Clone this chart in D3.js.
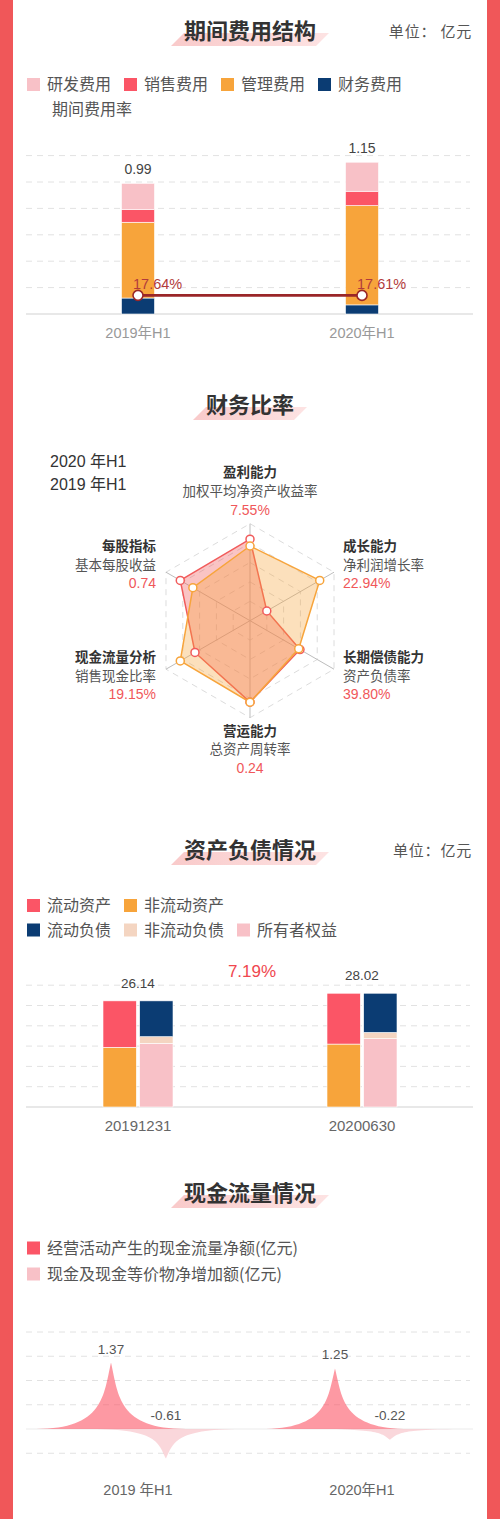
<!DOCTYPE html>
<html>
<head>
<meta charset="utf-8">
<script src="https://cdn.jsdelivr.net/npm/d3@7"></script>
<style>
  body { margin: 0; background: #fff; }
  text { font-family: 'Liberation Sans', 'Noto Sans CJK SC', sans-serif; }
</style>
</head>
<body>
<script>
// ---- 期间费用结构 ----
var costCats = ['2019年H1', '2020年H1'];
var rdExp = [0.197, 0.220];     // 研发费用
var salesExp = [0.098, 0.109];  // 销售费用
var mgmtExp = [0.574, 0.752];   // 管理费用
var finExp = [0.121, 0.069];    // 财务费用
var costTotals = ['0.99', '1.15'];
var costRate = [17.64, 17.61];  // 期间费用率 %

// ---- 财务比率 ----
var radarTitles = ['盈利能力', '成长能力', '长期偿债能力', '营运能力', '现金流量分析', '每股指标'];
var radarSubs = ['加权平均净资产收益率', '净利润增长率', '资产负债率', '总资产周转率', '销售现金比率', '基本每股收益'];
var radarValues = ['7.55%', '22.94%', '39.80%', '0.24', '19.15%', '0.74'];
var radar2020 = [0.84, 0.20, 0.595, 0.84, 0.655, 0.83];
var radar2019 = [0.77, 0.83, 0.58, 0.84, 0.83, 0.68];

// ---- 资产负债情况 ----
var bsCats = ['20191231', '20200630'];
var curAssets = [11.44, 12.52];     // 流动资产
var nonCurAssets = [14.70, 15.50];  // 非流动资产
var curLiab = [8.82, 9.65];         // 流动负债
var nonCurLiab = [1.64, 1.50];      // 非流动负债
var equity = [15.68, 16.87];        // 所有者权益
var bsTotals = ['26.14', '28.02'];
var assetGrowth = '7.19%';

// ---- 现金流量情况 ----
var cfCats = ['2019 年H1', '2020年H1'];
var opCash = [1.37, 1.25];     // 经营活动产生的现金流量净额
var netCash = [-0.61, -0.22];  // 现金及现金等价物净增加额

var C = {
  frame: '#f05759', pink: '#f8c1c7', red: '#fb5566', orange: '#f7a43b', navy: '#0b3c73',
  beige: '#f4d5c1', grid: '#e2e2e2', text: '#333', sub: '#555', axis: '#777'
};

var svg = d3.select('body').append('svg').attr('width', 500).attr('height', 1519);
svg.append('rect').attr('width', 500).attr('height', 1519).attr('fill', C.frame);
svg.append('rect').attr('x', 13).attr('width', 474).attr('height', 1519).attr('fill', '#fff');

var defs = svg.append('defs');
var grad = defs.append('linearGradient').attr('id', 'tg');
grad.append('stop').attr('offset', '0%').attr('stop-color', '#f9caca');
grad.append('stop').attr('offset', '100%').attr('stop-color', '#fde3e3');

function title(cy, txt, unit) {
  var g = svg.append('g');
  var p = g.append('path').attr('fill', 'url(#tg)');
  var t = g.append('text').attr('x', 250).attr('y', cy + 8).attr('text-anchor', 'middle')
    .attr('font-size', 22).attr('font-weight', 'bold').attr('fill', C.text)
    .style('font-family', "'Noto Sans CJK SC', sans-serif").text(txt);
  var w = t.node().getComputedTextLength();
  var l = 250 - w / 2 - 13, r = 250 + w / 2;
  p.attr('d', 'M' + l + ',' + (cy + 15) + 'L' + (l + 13) + ',' + (cy + 2) + 'L' + (r + 13) + ',' + (cy + 2) + 'L' + r + ',' + (cy + 15) + 'Z');
  if (unit) {
    g.append('text').attr('x', 472).attr('y', cy + 6).attr('text-anchor', 'end')
      .attr('font-size', 15).attr('fill', C.sub).style('font-family', "'Noto Sans CJK SC', sans-serif")
      .attr('letter-spacing', 0.8).text(unit);
  }
}

function legend(items) {
  items.forEach(function (d) {
    if (d.color) {
      svg.append('rect').attr('x', d.x).attr('y', d.y - 6.5).attr('width', 13).attr('height', 13).attr('fill', d.color);
    }
    svg.append('text').attr('x', d.tx != null ? d.tx : d.x + 20).attr('y', d.y + 5.5)
      .attr('font-size', 16).attr('fill', C.sub).style('font-family', "'Noto Sans CJK SC', sans-serif").text(d.label);
  });
}

function grid(scale, ticks, x0, x1, skip) {
  svg.append('g').selectAll('line').data(ticks.filter(function (t) { return t !== skip; })).join('line')
    .attr('x1', x0).attr('x2', x1).attr('y1', function (t) { return scale(t); }).attr('y2', function (t) { return scale(t); })
    .attr('stroke', C.grid).attr('stroke-dasharray', '6,5');
}

// ================= 1. 期间费用结构 =================
title(31, '期间费用结构', '单位： 亿元');
legend([
  { x: 27, y: 84.5, color: C.pink, label: '研发费用' },
  { x: 124, y: 84.5, color: C.red, label: '销售费用' },
  { x: 221, y: 84.5, color: C.orange, label: '管理费用' },
  { x: 318, y: 84.5, color: C.navy, label: '财务费用' },
  { x: 27, tx: 52, y: 109, label: '期间费用率' }
]);

var x1 = d3.scaleBand().domain(costCats).range([26, 474]);
var y1 = d3.scaleLinear().domain([0, 1.2]).range([314, 155.6]);
var yRate = d3.scaleLinear().domain([0, 150]).range([314, 155.6]);
grid(y1, y1.ticks(6), 26, 470, 0);
svg.append('line').attr('x1', 26).attr('x2', 473).attr('y1', y1(0)).attr('y2', y1(0)).attr('stroke', '#e0e0e0').attr('stroke-width', 1.5);

var costRows = costCats.map(function (c, i) {
  return { cat: c, fin: finExp[i], mgmt: mgmtExp[i], sales: salesExp[i], rd: rdExp[i] };
});
var costColors = { fin: C.navy, mgmt: C.orange, sales: C.red, rd: C.pink };
var costStack = d3.stack().keys(['fin', 'mgmt', 'sales', 'rd'])(costRows);
var bw1 = 33;
svg.append('g').selectAll('g').data(costStack).join('g').attr('fill', function (s) { return costColors[s.key]; })
  .selectAll('rect').data(function (s) { return s; }).join('rect')
  .attr('x', function (d) { return x1(d.data.cat) + x1.bandwidth() / 2 - bw1 / 2; })
  .attr('width', bw1)
  .attr('y', function (d) { return y1(d[1]); })
  .attr('height', function (d) { return y1(d[0]) - y1(d[1]); })
  .attr('stroke', '#fff').attr('stroke-width', 0.6);

svg.append('g').selectAll('text').data(costCats).join('text')
  .attr('x', function (c) { return x1(c) + x1.bandwidth() / 2; })
  .attr('y', function (c, i) { return y1(+costTotals[i]) - 9; })
  .attr('text-anchor', 'middle').attr('font-size', 14).attr('fill', '#444')
  .text(function (c, i) { return costTotals[i]; });

svg.append('g').selectAll('text').data(costCats).join('text')
  .attr('x', function (c) { return x1(c) + x1.bandwidth() / 2; }).attr('y', 338)
  .attr('text-anchor', 'middle').attr('font-size', 14.5).attr('fill', '#999').text(function (c) { return c; });

var rateLine = d3.line()
  .x(function (d, i) { return x1(costCats[i]) + x1.bandwidth() / 2; })
  .y(function (d) { return yRate(d); });
svg.append('path').datum(costRate).attr('d', rateLine).attr('fill', 'none').attr('stroke', '#9a2628').attr('stroke-width', 2.6);
svg.append('g').selectAll('circle').data(costRate).join('circle')
  .attr('cx', function (d, i) { return x1(costCats[i]) + x1.bandwidth() / 2; })
  .attr('cy', function (d) { return yRate(d); }).attr('r', 5)
  .attr('fill', '#fff').attr('stroke', '#9a2628').attr('stroke-width', 1.6);
svg.append('g').selectAll('text').data(costRate).join('text')
  .attr('x', function (d, i) { return x1(costCats[i]) + x1.bandwidth() / 2 - 5; })
  .attr('y', function (d) { return yRate(d) - 6; })
  .attr('font-size', 14.5).attr('fill', '#b23b3b').text(function (d) { return d.toFixed(2) + '%'; });

// ================= 2. 财务比率 =================
title(405, '财务比率', null);
svg.append('text').attr('x', 50).attr('y', 466.5).attr('font-size', 16).attr('fill', C.text).text('2020 年H1');
svg.append('text').attr('x', 50).attr('y', 489.5).attr('font-size', 16).attr('fill', C.text).text('2019 年H1');

var rcx = 250, rcy = 620.7, R = 97;
var ang = d3.scaleLinear().domain([0, radarTitles.length]).range([0, 2 * Math.PI]);
var rr = d3.scaleLinear().domain([0, 1]).range([0, R]);
function pt(i, v) {
  var a = ang(i);
  return [rcx + rr(v) * Math.sin(a), rcy - rr(v) * Math.cos(a)];
}
var radarG = svg.append('g');
[0.2, 0.4, 0.6, 0.8, 1].forEach(function (lv) {
  radarG.append('path')
    .attr('d', d3.line()(d3.range(6).map(function (i) { return pt(i, lv); })) + 'Z')
    .attr('fill', 'none').attr('stroke', '#dcdcdc').attr('stroke-dasharray', '6,5');
});
radarG.selectAll('line').data(d3.range(6)).join('line')
  .attr('x1', rcx).attr('y1', rcy)
  .attr('x2', function (i) { return pt(i, 1)[0]; }).attr('y2', function (i) { return pt(i, 1)[1]; })
  .attr('stroke', '#bdbdbd');

var series = [
  { vals: radar2020, stroke: '#f15b5b', fill: 'rgba(241,91,91,0.36)' },
  { vals: radar2019, stroke: '#f7a43b', fill: 'rgba(247,164,59,0.34)' }
];
series.forEach(function (s) {
  var pts = s.vals.map(function (v, i) { return pt(i, v); });
  radarG.append('path').attr('d', d3.line()(pts) + 'Z').attr('fill', s.fill).attr('stroke', s.stroke).attr('stroke-width', 1.5);
});
series.forEach(function (s) {
  radarG.selectAll(null).data(s.vals).join('circle')
    .attr('cx', function (v, i) { return pt(i, v)[0]; }).attr('cy', function (v, i) { return pt(i, v)[1]; })
    .attr('r', 4).attr('fill', '#fff').attr('stroke', s.stroke).attr('stroke-width', 1.5);
});

// label layout per axis: anchor, x offset from centre, y offsets of the three lines from the outer vertex
var labelLayout = [
  { anchor: 'middle', dx: 0, dy: [-47, -28, -9] },
  { anchor: 'start', dx: 93, dy: [-21, -2, 16] },
  { anchor: 'start', dx: 93, dy: [-7, 12, 30] },
  { anchor: 'middle', dx: 0, dy: [18, 36, 55] },
  { anchor: 'end', dx: -94, dy: [-7, 12, 30] },
  { anchor: 'end', dx: -94, dy: [-21, -2, 16] }
];
radarTitles.forEach(function (t, i) {
  var L = labelLayout[i], v = pt(i, 1);
  var g = svg.append('g').attr('text-anchor', L.anchor);
  g.append('text').attr('x', rcx + L.dx).attr('y', v[1] + L.dy[0]).attr('font-size', 13.5).attr('font-weight', 'bold')
    .attr('fill', C.text).style('font-family', "'Noto Sans CJK SC', sans-serif").text(t);
  g.append('text').attr('x', rcx + L.dx).attr('y', v[1] + L.dy[1]).attr('font-size', 13.5)
    .attr('fill', C.sub).style('font-family', "'Noto Sans CJK SC', sans-serif").text(radarSubs[i]);
  g.append('text').attr('x', rcx + L.dx).attr('y', v[1] + L.dy[2]).attr('font-size', 14)
    .attr('fill', '#f0575a').text(radarValues[i]);
});

// ================= 3. 资产负债情况 =================
title(850, '资产负债情况', '单位：亿元');
legend([
  { x: 27, y: 905.5, color: C.red, label: '流动资产' },
  { x: 124, y: 905.5, color: C.orange, label: '非流动资产' },
  { x: 27, y: 930, color: C.navy, label: '流动负债' },
  { x: 124, y: 930, color: C.beige, label: '非流动负债' },
  { x: 237, y: 930, color: C.pink, label: '所有者权益' }
]);

var x3 = d3.scaleBand().domain(bsCats).range([26, 474]);
var xIn = d3.scaleBand().domain(['asset', 'liab']).range([-35, 35]).paddingInner(0.09);
var y3 = d3.scaleLinear().domain([0, 30]).range([1107, 985.2]);
grid(y3, y3.ticks(6), 26, 470, 0);
svg.append('line').attr('x1', 26).attr('x2', 473).attr('y1', y3(0)).attr('y2', y3(0)).attr('stroke', '#e0e0e0').attr('stroke-width', 1.5);

var bsRows = bsCats.map(function (c, i) {
  return { cat: c, nca: nonCurAssets[i], ca: curAssets[i], eq: equity[i], ncl: nonCurLiab[i], cl: curLiab[i] };
});
var bsColors = { nca: C.orange, ca: C.red, eq: C.pink, ncl: C.beige, cl: C.navy };
[['asset', ['nca', 'ca']], ['liab', ['eq', 'ncl', 'cl']]].forEach(function (side) {
  var st = d3.stack().keys(side[1])(bsRows);
  svg.append('g').selectAll('g').data(st).join('g').attr('fill', function (s) { return bsColors[s.key]; })
    .selectAll('rect').data(function (s) { return s; }).join('rect')
    .attr('x', function (d) { return x3(d.data.cat) + x3.bandwidth() / 2 + xIn(side[0]); })
    .attr('width', xIn.bandwidth())
    .attr('y', function (d) { return y3(d[1]); })
    .attr('height', function (d) { return y3(d[0]) - y3(d[1]); })
    .attr('stroke', '#fff').attr('stroke-width', 0.6);
});
svg.append('g').selectAll('text').data(bsCats).join('text')
  .attr('x', function (c) { return x3(c) + x3.bandwidth() / 2; })
  .attr('y', function (c, i) { return y3(+bsTotals[i]) - 13; })
  .attr('text-anchor', 'middle').attr('font-size', 13.5).attr('fill', '#444')
  .text(function (c, i) { return bsTotals[i]; });
svg.append('text').attr('x', 252).attr('y', 977).attr('text-anchor', 'middle').attr('font-size', 17)
  .attr('fill', '#f0474f').text(assetGrowth);
svg.append('g').selectAll('text').data(bsCats).join('text')
  .attr('x', function (c) { return x3(c) + x3.bandwidth() / 2; }).attr('y', 1131)
  .attr('text-anchor', 'middle').attr('font-size', 15).attr('fill', '#666').text(function (c) { return c; });

// ================= 4. 现金流量情况 =================
title(1193, '现金流量情况', null);
legend([
  { x: 27, y: 1248, color: C.red, label: '经营活动产生的现金流量净额(亿元)' },
  { x: 27, y: 1274, color: C.pink, label: '现金及现金等价物净增加额(亿元)' }
]);

var x4 = d3.scaleBand().domain(cfCats).range([26, 474]);
var y4 = d3.scaleLinear().domain([-0.5, 2]).range([1453.25, 1332]);
grid(y4, y4.ticks(5), 26, 470, 0);
svg.append('line').attr('x1', 26).attr('x2', 473).attr('y1', y4(0)).attr('y2', y4(0)).attr('stroke', '#ececec').attr('stroke-width', 1.2);

function spike(cx, v, w) {
  var y0 = y4(0), h = y4(v) - y0;  // signed height
  var X = function (px) { return cx - w / 2 + px * w / 10; };
  var Y = function (py) { return y0 + (10 - py) / 10 * h; };
  return 'M' + X(0) + ',' + Y(10) + 'L' + X(10) + ',' + Y(10) +
    'C' + X(5.5) + ',' + Y(10) + ' ' + X(5.5) + ',' + Y(5) + ' ' + X(5) + ',' + Y(0) +
    'C' + X(4.5) + ',' + Y(5) + ' ' + X(4.5) + ',' + Y(10) + ' ' + X(0) + ',' + Y(10) + 'Z';
}
var cfSeries = [
  { vals: opCash, off: -27, color: C.red, op: 0.6 },
  { vals: netCash, off: 28, color: C.pink, op: 0.65 }
];
cfSeries.forEach(function (s) {
  svg.append('g').selectAll('path').data(s.vals).join('path')
    .attr('d', function (v, i) { return spike(x4(cfCats[i]) + x4.bandwidth() / 2 + s.off, v, 150); })
    .attr('fill', s.color).attr('fill-opacity', s.op);
  svg.append('g').selectAll('text').data(s.vals).join('text')
    .attr('x', function (v, i) { return x4(cfCats[i]) + x4.bandwidth() / 2 + s.off; })
    .attr('y', function (v) { return (v > 0 ? y4(v) : y4(0)) - 9; })
    .attr('text-anchor', 'middle').attr('font-size', 13.5).attr('fill', '#555')
    .text(function (v) { return v.toFixed(2); });
});
svg.append('g').selectAll('text').data(cfCats).join('text')
  .attr('x', function (c) { return x4(c) + x4.bandwidth() / 2; }).attr('y', 1495)
  .attr('text-anchor', 'middle').attr('font-size', 14.5).attr('fill', '#666').text(function (c) { return c; });
</script>
</body>
</html>
